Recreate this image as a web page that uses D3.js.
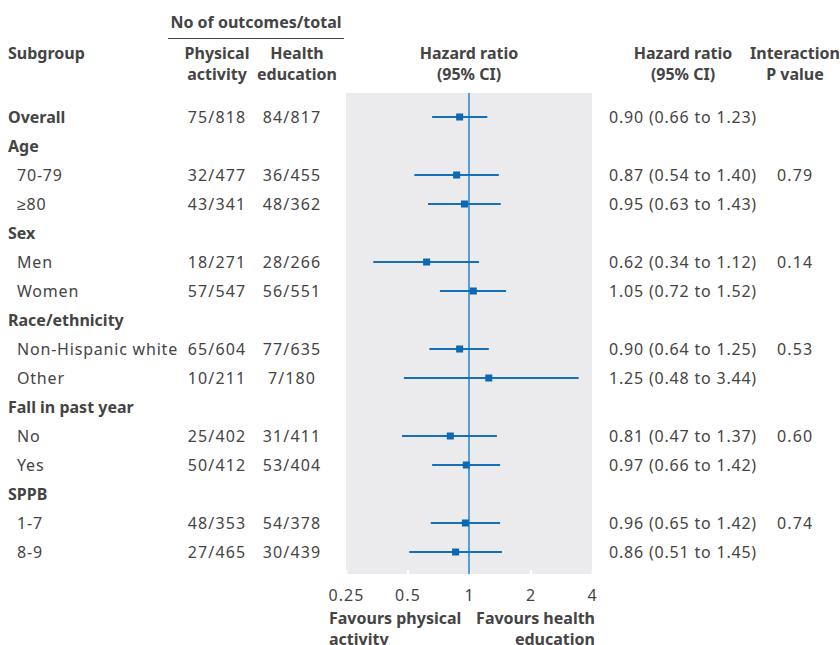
<!DOCTYPE html>
<html>
<head>
<meta charset="utf-8">
<script src="https://cdn.jsdelivr.net/npm/d3@7"></script>
<style>
  body { margin: 0; background: #fff; }
  svg text { font-family: "Noto Sans", sans-serif; fill: #444; font-size: 16px; letter-spacing: 0.8px; }
  svg text.bold { font-weight: bold; letter-spacing: 0; }
  svg text.num { letter-spacing: 1.1px; }
</style>
</head>
<body>
<script>
(function() {
  'use strict';

  // rows of the table, top to bottom
  const labels = ['Overall', 'Age', '70-79', '≥80', 'Sex', 'Men', 'Women', 'Race/ethnicity',
    'Non-Hispanic white', 'Other', 'Fall in past year', 'No', 'Yes', 'SPPB', '1-7', '8-9'];
  const isHeading = [true, true, false, false, true, false, false, true,
    false, false, true, false, false, true, false, false];
  const physical = ['75/818', '', '32/477', '43/341', '', '18/271', '57/547', '',
    '65/604', '10/211', '', '25/402', '50/412', '', '48/353', '27/465'];
  const health = ['84/817', '', '36/455', '48/362', '', '28/266', '56/551', '',
    '77/635', '7/180', '', '31/411', '53/404', '', '54/378', '30/439'];
  const hr = [0.90, null, 0.87, 0.95, null, 0.62, 1.05, null, 0.90, 1.25, null, 0.81, 0.97, null, 0.96, 0.86];
  const lower = [0.66, null, 0.54, 0.63, null, 0.34, 0.72, null, 0.64, 0.48, null, 0.47, 0.66, null, 0.65, 0.51];
  const upper = [1.23, null, 1.40, 1.43, null, 1.12, 1.52, null, 1.25, 3.44, null, 1.37, 1.42, null, 1.42, 1.45];
  const pValues = ['', '', '0.79', '', '', '0.14', '', '', '0.53', '', '', '0.60', '', '', '0.74', ''];
  const ticks = [0.25, 0.5, 1, 2, 4];

  const w = 840;
  const h = 645;
  const rowTop = 117;
  const rowStep = 29;

  const rows = labels.map((d, i) => ({
    label: d, heading: isHeading[i], pa: physical[i], he: health[i],
    hr: hr[i], lo: lower[i], hi: upper[i], p: pValues[i], i: i
  }));

  const svg = d3.select('body').append('svg')
    .attr('width', w)
    .attr('height', h);

  const x = d3.scaleLog().base(2).domain([0.25, 4]).range([346, 592]);
  const y = (i) => rowTop + i * rowStep;
  const panelTop = 93;
  const panelBottom = 574;

  // grey panel behind the plot
  svg.append('rect')
    .attr('x', x(0.25))
    .attr('y', panelTop)
    .attr('width', x(4) - x(0.25))
    .attr('height', panelBottom - panelTop)
    .attr('fill', '#ebebed');

  // axis
  const xAxis = d3.axisBottom(x).tickValues(ticks).tickFormat(d3.format('')).tickSize(4);
  const axis = svg.append('g')
    .attr('transform', 'translate(0,' + (panelBottom - 4) + ')')
    .call(xAxis);
  axis.select('.domain').remove();
  axis.selectAll('.tick line').attr('stroke', '#fff').attr('stroke-width', 2);
  axis.selectAll('.tick text')
    .attr('class', 'num')
    .attr('y', 20)
    .attr('font-size', null)
    .attr('font-family', null)
    .attr('fill', null);
  axis.attr('font-size', null).attr('font-family', null);

  // line of no effect
  svg.append('line')
    .attr('x1', x(1)).attr('x2', x(1))
    .attr('y1', panelTop).attr('y2', panelBottom)
    .attr('stroke', '#559fd4')
    .attr('stroke-width', 2);

  const est = rows.filter((d) => d.hr !== null);

  svg.selectAll('.ci')
    .data(est)
    .enter()
    .append('line')
    .attr('class', 'ci')
    .attr('x1', (d) => x(d.lo))
    .attr('x2', (d) => x(d.hi))
    .attr('y1', (d) => y(d.i))
    .attr('y2', (d) => y(d.i))
    .attr('stroke', '#1670b9')
    .attr('stroke-width', 2);

  svg.selectAll('.pt')
    .data(est)
    .enter()
    .append('rect')
    .attr('class', 'pt')
    .attr('x', (d) => x(d.hr) - 3.5)
    .attr('y', (d) => y(d.i) - 3.5)
    .attr('width', 7)
    .attr('height', 7)
    .attr('fill', '#0b68b3');

  // table text
  const body = svg.append('g');
  body.selectAll('.lab')
    .data(rows)
    .enter()
    .append('text')
    .attr('class', (d) => d.heading ? 'bold' : null)
    .attr('x', (d) => d.heading ? 8 : 17)
    .attr('y', (d) => y(d.i))
    .attr('dy', '0.35em')
    .text((d) => d.label);

  body.selectAll('.pa')
    .data(rows)
    .enter()
    .append('text')
    .attr('class', 'num')
    .attr('x', 217)
    .attr('y', (d) => y(d.i))
    .attr('dy', '0.35em')
    .attr('text-anchor', 'middle')
    .text((d) => d.pa);

  body.selectAll('.he')
    .data(rows)
    .enter()
    .append('text')
    .attr('class', 'num')
    .attr('x', 292)
    .attr('y', (d) => y(d.i))
    .attr('dy', '0.35em')
    .attr('text-anchor', 'middle')
    .text((d) => d.he);

  const fmt = d3.format('.2f');
  body.selectAll('.hrt')
    .data(est)
    .enter()
    .append('text')
    .attr('x', 609)
    .attr('y', (d) => y(d.i))
    .attr('dy', '0.35em')
    .text((d) => fmt(d.hr) + ' (' + fmt(d.lo) + ' to ' + fmt(d.hi) + ')');

  body.selectAll('.pv')
    .data(rows)
    .enter()
    .append('text')
    .attr('class', 'num')
    .attr('x', 777)
    .attr('y', (d) => y(d.i))
    .attr('dy', '0.35em')
    .text((d) => d.p);

  // headers
  function header(lines, xPos, yPos, anchor) {
    const t = svg.append('text')
      .attr('class', 'bold')
      .attr('text-anchor', anchor)
      .attr('x', xPos)
      .attr('y', yPos);
    lines.forEach((s, k) => {
      t.append('tspan').attr('x', xPos).attr('dy', k === 0 ? 0 : 21).text(s);
    });
  }

  header(['No of outcomes/total'], 256, 28, 'middle');
  svg.append('line')
    .attr('x1', 168).attr('x2', 344)
    .attr('y1', 38.5).attr('y2', 38.5)
    .attr('stroke', '#444')
    .attr('stroke-width', 1.2);
  header(['Subgroup'], 8, 59, 'start');
  header(['Physical', 'activity'], 217, 59, 'middle');
  header(['Health', 'education'], 297, 59, 'middle');
  header(['Hazard ratio', '(95% CI)'], 469, 59, 'middle');
  header(['Hazard ratio', '(95% CI)'], 683, 59, 'middle');
  header(['Interaction', 'P value'], 795, 59, 'middle');

  header(['Favours physical', 'activity'], 329, 624, 'start');
  header(['Favours health', 'education'], 595, 624, 'end');
}());
</script>
</body>
</html>
